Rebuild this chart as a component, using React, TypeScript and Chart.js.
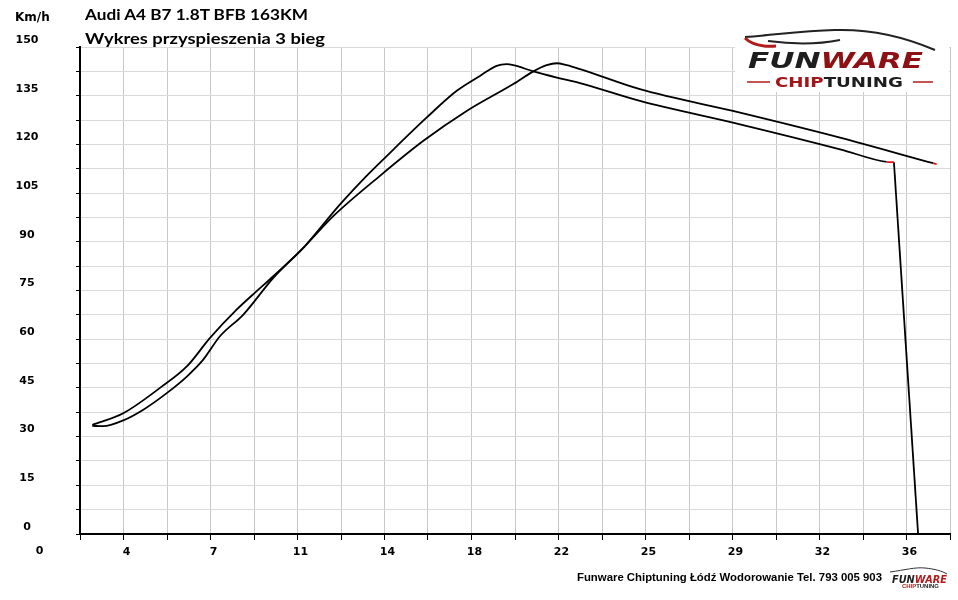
import React, { useEffect, useRef } from "react";
import Chart from "chart.js/auto";

// czas [s] / predkosc [km/h] - dwa przejazdy na 3 biegu
const TIME_A = [2.31, 2.76, 3.59, 4.42, 5.39, 6.22, 6.9, 7.59, 8.56, 9.8, 11.11, 12.56, 13.66, 14.49, 16.15, 17.39, 18.35, 19.04, 19.46, 19.73, 20.56, 21.53, 22.49, 24.97, 29.11, 33.25, 35.18, 35.48, 36.48];
const SPEED_A = [33.3, 33.2, 35.0, 38.3, 43.4, 48.5, 53.7, 60.9, 67.6, 78.9, 88.7, 101.5, 110.3, 116.4, 128.3, 136.5, 141.1, 144.2, 144.7, 144.4, 142.5, 140.6, 138.9, 133.4, 126.2, 118.5, 114.6, 114.5, 0];

const TIME_B = [2.31, 3.59, 5.11, 6.22, 7.18, 8.28, 9.11, 9.8, 11.11, 12.28, 14.21, 16.01, 17.8, 19.73, 20.56, 21.11, 21.53, 21.94, 22.49, 24.97, 29.11, 33.25, 37.1, 37.25];
const SPEED_B = [33.6, 37.2, 45.0, 51.6, 60.4, 69.1, 74.8, 79.4, 88.7, 97.9, 110.3, 121.1, 130.3, 138.6, 142.5, 144.4, 145.0, 144.4, 143.2, 137.0, 129.8, 122.1, 114.2, 113.9];

const X_TICK_LABELS = ["0", "4", "7", "11", "14", "18", "22", "25", "29", "32", "36"];
const X_STEP = 1.8;
const X_MIN = 1.8;
const X_MAX = 37.8;
const Y_MIN = 0;
const Y_MAX = 150;
const Y_STEP = 7.5;
const Y_LABEL_STEP = 15;

const TICK_FONT = { family: "'DejaVu Sans', sans-serif", size: 11, weight: "bold" as const };
const RED = "#e8141c";

const toPoints = (xs: number[], ys: number[]) => xs.map((t, i) => ({ x: t, y: ys[i] }));

// etykieta "0" pod osia, poza obszarem wykresu
const zeroLabel = {
  id: "zeroLabel",
  afterDraw(chart: Chart) {
    const xs = chart.scales.x;
    const { ctx } = chart;
    ctx.save();
    ctx.font = "bold 11px 'DejaVu Sans', sans-serif";
    ctx.fillStyle = "#000";
    ctx.textAlign = "center";
    ctx.textBaseline = "top";
    ctx.fillText(X_TICK_LABELS[0], xs.getPixelForValue(0) + 3, xs.top + 6 + 6);
    ctx.restore();
  },
};

export default function App() {
  const canvasRef = useRef<HTMLCanvasElement | null>(null);
  const chartRef = useRef<Chart | null>(null);

  useEffect(() => {
    document.body.style.margin = "0";
    if (!canvasRef.current) return;
    if (chartRef.current) {
      chartRef.current.destroy();
      chartRef.current = null;
    }

    // przebieg A: krzywa do odciecia + pionowy spadek na koncu
    const cut = TIME_A.length - 2;
    const ptsA = toPoints(TIME_A, SPEED_A);
    const ptsB = toPoints(TIME_B, SPEED_B);
    const redA = cut;
    const redB = ptsB.length - 1;

    const line = {
      borderColor: "#000",
      borderWidth: 1.8,
      pointRadius: 0,
    };

    chartRef.current = new Chart(canvasRef.current, {
      type: "line",
      data: {
        datasets: [
          {
            ...line,
            data: ptsA.slice(0, cut + 1),
            cubicInterpolationMode: "monotone",
            segment: {
              borderColor: (c: any) => (c.p1DataIndex === redA ? RED : undefined),
            },
          },
          {
            ...line,
            data: ptsA.slice(cut),
            tension: 0,
          },
          {
            ...line,
            data: ptsB,
            cubicInterpolationMode: "monotone",
            segment: {
              borderColor: (c: any) => (c.p1DataIndex === redB ? RED : undefined),
            },
          },
        ],
      },
      options: {
        responsive: false,
        animation: false,
        layout: { padding: { top: 47, right: 8, left: 0, bottom: 0 } },
        plugins: {
          legend: { display: false },
          tooltip: { enabled: false },
        },
        scales: {
          x: {
            type: "linear",
            min: X_MIN,
            max: X_MAX,
            afterBuildTicks: (scale: any) => {
              const n = Math.round((X_MAX - X_MIN) / X_STEP);
              scale.ticks = Array.from({ length: n + 1 }, (_, k) => ({
                value: +(X_MIN + X_STEP * k).toFixed(2),
              }));
            },
            afterFit: (scale: any) => {
              scale.height = 66;
            },
            grid: { color: "#c8c8c8", lineWidth: 1, tickLength: 6, tickColor: "#000", tickWidth: 1 },
            border: { color: "#000", width: 2 },
            ticks: {
              autoSkip: false,
              maxRotation: 0,
              padding: 6,
              labelOffset: 3,
              color: "#000",
              font: TICK_FONT,
              callback: (_v: any, index: number) =>
                (index + 1) % 2 === 0 ? X_TICK_LABELS[(index + 1) / 2] ?? "" : "",
            },
          },
          y: {
            min: Y_MIN,
            max: Y_MAX,
            afterFit: (scale: any) => {
              scale.width = 80;
            },
            grid: { color: "#d9d9d9", lineWidth: 1, tickLength: 4, tickColor: "#000", tickWidth: 1 },
            border: { color: "#000", width: 2 },
            ticks: {
              stepSize: Y_STEP,
              autoSkip: false,
              crossAlign: "center",
              padding: 37.5,
              labelOffset: -7,
              color: "#000",
              font: TICK_FONT,
              callback: (v: any) => (Number(v) % Y_LABEL_STEP === 0 ? String(v) : ""),
            },
          },
        },
      },
      plugins: [zeroLabel],
    });

    return () => {
      if (chartRef.current) {
        chartRef.current.destroy();
        chartRef.current = null;
      }
    };
  }, []);

  return (
    <div style={{ position: "relative", width: 958, height: 600, background: "#fff" }}>
      <canvas ref={canvasRef} width={958} height={600} style={{ display: "block" }} />
      <svg
        width={958}
        height={600}
        style={{ position: "absolute", left: 0, top: 0, pointerEvents: "none" }}
      >
        <text x={15} y={20.5} fontFamily="'DejaVu Sans', sans-serif" fontWeight="bold" fontSize={12} fill="#000">
          Km/h
        </text>
        <text x={85} y={19.5} fontFamily="Lato, sans-serif" fontWeight="bold" fontSize={16} fill="#000" textLength={223} lengthAdjust="spacingAndGlyphs">
          Audi A4 B7 1.8T BFB 163KM
        </text>
        <text x={85} y={43.5} fontFamily="Lato, sans-serif" fontWeight="bold" fontSize={16} fill="#000" textLength={240} lengthAdjust="spacingAndGlyphs">
          Wykres przyspieszenia 3 bieg
        </text>

        {/* logo */}
        <rect x={735} y={26} width={214} height={66} fill="#fff" />
        <path d="M745,37 C775,35 800,31 835,30 C870,29 905,37 935,50" fill="none" stroke="#222" strokeWidth={2} />
        <path d="M768,41 C790,44 815,45 840,40" fill="none" stroke="#222" strokeWidth={2} />
        <path d="M745,38 C752,45 762,47 776,46" fill="none" stroke="#b01c1c" strokeWidth={3} />
        <text x={748} y={68} fontFamily="'DejaVu Sans', sans-serif" fontWeight="bold" fontStyle="italic" fontSize={22} textLength={175} lengthAdjust="spacingAndGlyphs">
          <tspan fill="#1e1e1e">FUN</tspan>
          <tspan fill="#8e1014">WARE</tspan>
        </text>
        <line x1={747} y1={82} x2={770} y2={82} stroke="#b01c1c" strokeWidth={1.5} />
        <line x1={913} y1={82} x2={933} y2={82} stroke="#b01c1c" strokeWidth={1.5} />
        <text x={775} y={87} fontFamily="'DejaVu Sans', sans-serif" fontWeight="bold" fontSize={13.5} textLength={128} lengthAdjust="spacingAndGlyphs">
          <tspan fill="#a3141b">CHIP</tspan>
          <tspan fill="#1e1e1e">TUNING</tspan>
        </text>

        {/* stopka */}
        <text x={577} y={581} fontFamily="'Liberation Sans', sans-serif" fontWeight="bold" fontSize={11} fill="#000" textLength={305} lengthAdjust="spacingAndGlyphs">
          Funware Chiptuning Łódź Wodorowanie Tel. 793 005 903
        </text>
        <path d="M890,572 C905,570 915,567 925,568 C935,569 942,571 947,574" fill="none" stroke="#333" strokeWidth={1} />
        <text x={892} y={583} fontFamily="'DejaVu Sans', sans-serif" fontWeight="bold" fontStyle="italic" fontSize={10.5} textLength={55} lengthAdjust="spacingAndGlyphs">
          <tspan fill="#1e1e1e">FUN</tspan>
          <tspan fill="#b01c1c">WARE</tspan>
        </text>
        <text x={902} y={588} fontFamily="'Liberation Sans', sans-serif" fontWeight="bold" fontSize={4.5} textLength={37} lengthAdjust="spacingAndGlyphs">
          <tspan fill="#b01c1c">CHIP</tspan>
          <tspan fill="#1e1e1e">TUNING</tspan>
        </text>
      </svg>
    </div>
  );
}
